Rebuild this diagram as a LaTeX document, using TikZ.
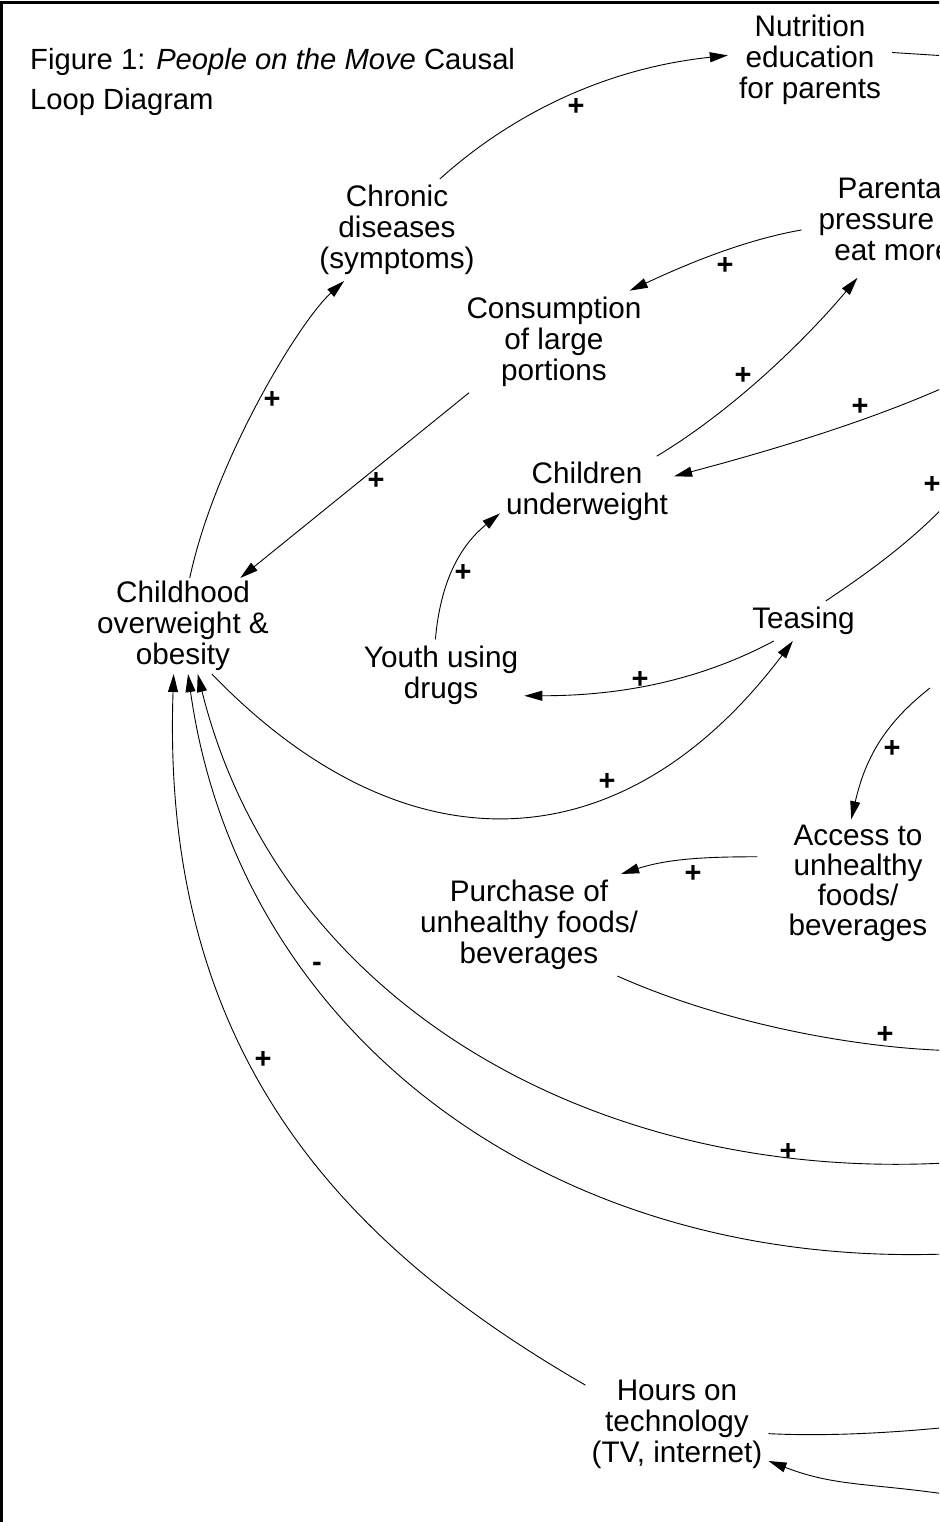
\documentclass[tikz,border=0pt]{standalone}
\usepackage{fontspec}
\setmainfont{Liberation Sans}
\usetikzlibrary{arrows.meta}
\tikzset{>={Triangle[length=18pt,width=10pt]},
var/.style={align=center, inner sep=6pt, font=\fontsize{29.7}{31}\selectfont},
pol/.style={inner sep=0pt, font=\fontsize{29}{29}\selectfont\bfseries},
frame/.style={line width=3pt},
link/.style={->, line width=0.9pt}}

\begin{document}
\begin{tikzpicture}[x=1pt,y=1pt]
\useasboundingbox (0,0) rectangle (939,-1522);
\clip (0,0) rectangle (939,-1522);
\draw[frame] (960,-2.5) -- (1.5,-2.5) -- (1.5,-1540);
\node[anchor=north west, align=left, inner sep=0pt, font=\fontsize{29.2}{40}\selectfont] (title) at (30,-48.2) {Figure 1: \textit{People on the Move} Causal\\Loop Diagram};
% variables
\node[var, inner xsep=11pt] (nut) at (810,-59.7) {Nutrition\\education\\for parents};
\node[var] (chr) at (397,-230) {Chronic\\diseases\\(symptoms)};
\node[var, inner xsep=17pt, inner ysep=17pt] (par) at (893,-218.7) {Parental\\pressure to\\eat more};
\node[var] (con) at (554,-341.7) {Consumption\\of large\\portions};
\node[var] (chu) at (587,-491.7) {Children\\underweight};
\node[var, inner sep=3pt] (cho) at (183,-626) {Childhood\\overweight \&\\obesity};
\node[var] (tea) at (803.5,-621) {Teasing};
\node[var] (you) at (441,-675) {Youth using\\drugs};
\node[var, inner xsep=31pt, font=\fontsize{29.7}{30}\selectfont] (acc) at (858,-883.7) {Access to\\unhealthy\\foods/\\beverages};
\node[var] (pur) at (529,-925) {Purchase of\\unhealthy foods/\\beverages};
\node[var] (hou) at (677,-1424) {Hours on\\technology\\(TV, internet)};
% ends outside the frame
\coordinate (offN) at (1010,-60);
\coordinate (offP) at (945,-387);
\coordinate (offT) at (992,-453);
\coordinate (offA) at (930,-688);
\coordinate (offQ) at (1010,-1048);
\coordinate (offR) at (945,-1163);
\coordinate (offM) at (945,-1254);
\coordinate (offH) at (1005,-1420);
\coordinate (offI) at (945,-1494);
\draw[link]
(chr.50) edge[out=42,in=186,out distance=100pt,in distance=120pt] (nut.177)
(nut.5) edge (offN)
(par.187) edge[out=190,in=25,out distance=60pt,in distance=60pt] (con.34)
(chu.27) edge[out=31,in=230,out distance=90pt,in distance=80pt] (par.239)
(offP) edge[out=204,in=15,out distance=100pt,in distance=70pt] (chu.10)
(tea.42) edge[bend right=8] (offT)
(tea.214) edge[out=208,in=0,out distance=90pt,in distance=90pt] (you.-14)
(you.99) edge[out=85,in=219,out distance=60pt,in distance=50pt] (chu.194)
(con.211) edge (cho.40)
(cho.82) edge[out=78,in=222,out distance=120pt,in distance=60pt] (chr.224)
(cho.-59) edge[out=314,in=233,out distance=280pt,in distance=280pt] (tea.242)
(acc.165) edge[out=180,in=18,out distance=50pt,in distance=50pt] (pur.29)
(offA) edge[out=218,in=77,out distance=60pt,in distance=60pt] (acc.96)
(pur.-30) edge[out=336,in=185,out distance=150pt,in distance=90pt] (offQ)
(offR) edge[out=183,in=284,out distance=350pt,in distance=340pt] (cho.-73)
(offM) edge[out=182,in=278,out distance=400pt,in distance=360pt] (cho.-84)
(hou.157) edge[out=150,in=268,out distance=280pt,in distance=380pt] (cho.-101)
(hou.-6) edge[out=-3,in=188,out distance=80pt,in distance=60pt] (offH)
(offI) edge[out=172,in=339,out distance=80pt,in distance=70pt] (hou.-22)
;
% polarities
\node[pol] (s1) at (576,-107) {+};
\node[pol] (s2) at (725,-266) {+};
\node[pol] (s3) at (743,-376) {+};
\node[pol] (s4) at (860,-407) {+};
\node[pol] (s5) at (932,-485) {+};
\node[pol] (s6) at (272,-400) {+};
\node[pol] (s7) at (376,-481) {+};
\node[pol] (s8) at (463,-573) {+};
\node[pol] (s9) at (640,-680) {+};
\node[pol] (s10) at (607,-782) {+};
\node[pol] (s11) at (892,-749) {+};
\node[pol] (s12) at (693,-874) {+};
\node[pol] (s13) at (885,-1035) {+};
\node[pol] (s14) at (788,-1152) {+};
\node[pol] (s15) at (317,-967) {-};
\node[pol] (s16) at (263,-1060) {+};
\end{tikzpicture}
\end{document}
